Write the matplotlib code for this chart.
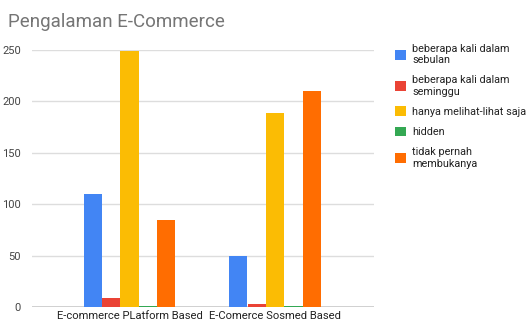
import numpy as np
import matplotlib
matplotlib.use("Agg")
import matplotlib.pyplot as plt

plt.rcParams['font.family'] = ['Roboto', 'DejaVu Sans']

kategori = ['E-commerce PLatform Based', 'E-Comerce Sosmed Based']
seri = ['beberapa kali dalam\nsebulan', 'beberapa kali dalam\nseminggu',
        'hanya melihat-lihat saja', 'hidden', 'tidak pernah\nmembukanya']
sebulan = [110, 50]
seminggu = [9, 3]
melihat = [249, 189]
hidden = [1, 1]
tidak_pernah = [85, 210]
warna = ['#4285F4', '#EA4335', '#FBBC04', '#34A853', '#FF6D01']
y_ticks = [0, 50, 100, 150, 200, 250]

nilai = [sebulan, seminggu, melihat, hidden, tidak_pernah]

fig = plt.figure(figsize=(5.29, 3.24), dpi=100)
ax = fig.add_axes([32 / 529, 1 - 307 / 324, (374 - 32) / 529, (307 - 50) / 324])

x = np.arange(len(kategori))
lebar = 0.124
jarak = 0.127
for i, (v, w, lab) in enumerate(zip(nilai, warna, seri)):
    ax.bar(x + (i - 2) * jarak, v, lebar, color=w, label=lab, zorder=3)

ax.set_xlim(-0.67, 1.68)
ax.set_ylim(0, 250)
ax.set_yticks(y_ticks)
ax.set_xticks(x)
ax.set_xticklabels(kategori, fontsize=8.1, color='#222222')
ax.tick_params(axis='y', labelsize=8, labelcolor='#444444', length=0, pad=8)
ax.tick_params(axis='x', length=0, pad=3)
for s in ax.spines.values():
    s.set_visible(False)
ax.grid(axis='y', color='#dddddd', linewidth=1, zorder=0)
ax.axhline(0, color='#333333', linewidth=1.0, zorder=2)

fig.text(8 / 529, 1 - 22 / 324, 'Pengalaman E-Commerce', fontsize=13.5,
         color='#757575', va='center', ha='left')

fig.legend(loc='upper left', bbox_to_anchor=(385 / 529, 1 - 34 / 324),
           frameon=False, fontsize=7.8, handlelength=1.0, handleheight=1.0,
           handletextpad=0.6, labelspacing=0.9, labelcolor='#222222')

fig.savefig('out.png', dpi=100)
